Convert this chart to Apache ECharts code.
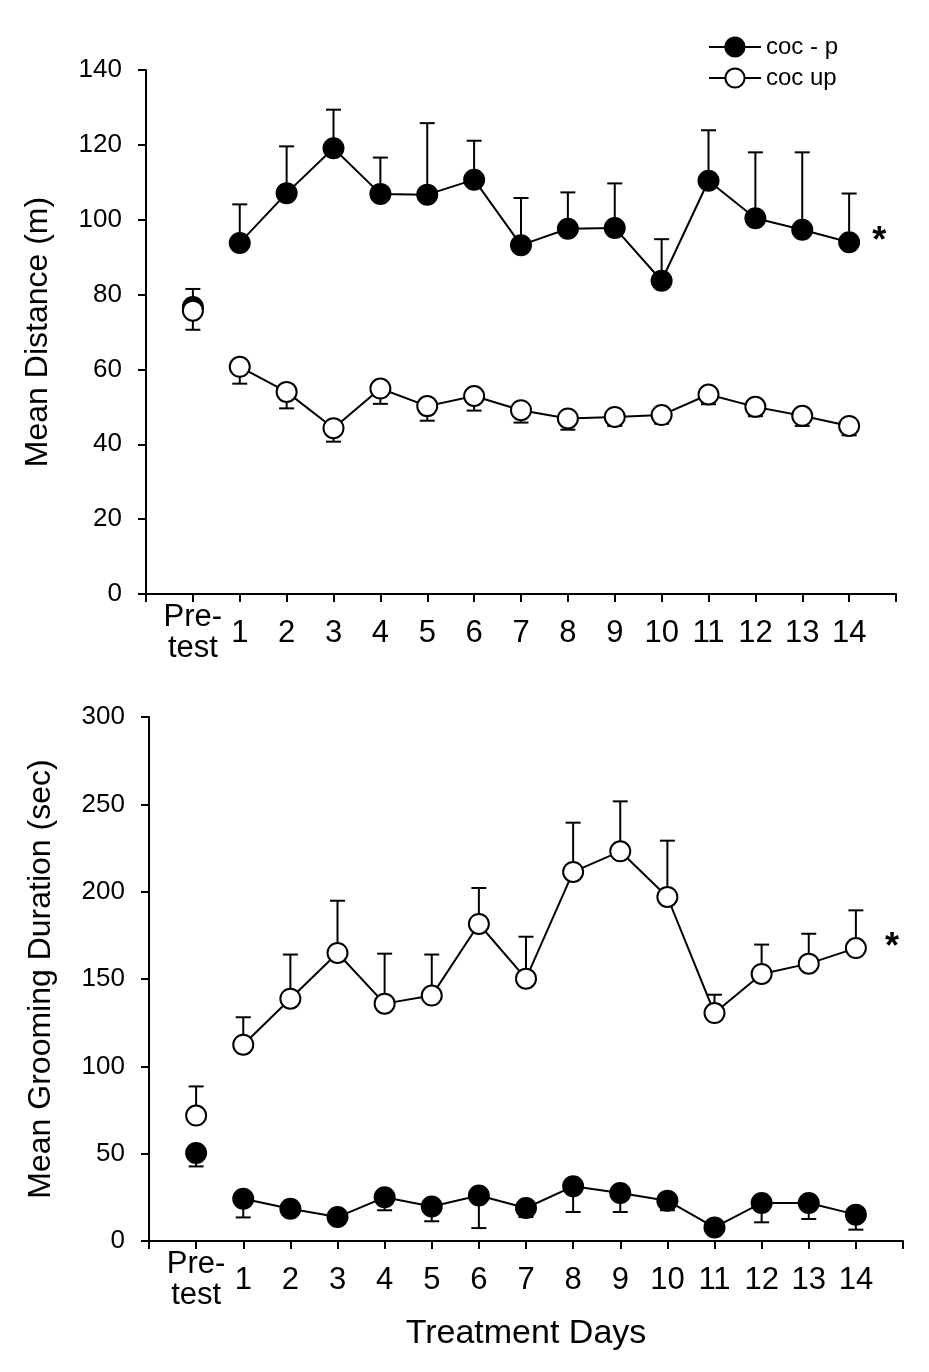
<!DOCTYPE html>
<html>
<head>
<meta charset="utf-8">
<script src="https://cdn.jsdelivr.net/npm/echarts@6/dist/echarts.min.js"></script>
<style>
  html, body { margin: 0; padding: 0; background: #fff; }
  #chart { width: 929px; height: 1372px; }
</style>
</head>
<body>
<div id="chart"></div>
<script>
// x categories (index 0 = pre-test)
const days = ['Pre-\ntest', '1', '2', '3', '4', '5', '6', '7', '8', '9', '10', '11', '12', '13', '14'];

// top panel: mean distance (m), values and end of error bar
const distCocP = [76.7, 93.8, 107.1, 119.1, 106.9, 106.7, 110.7, 93.2, 97.6, 97.8, 83.7, 110.4, 100.4, 97.3, 94.0];
const distCocPErr = [81.5, 104.1, 119.6, 129.4, 116.6, 125.8, 121.1, 105.8, 107.3, 109.7, 94.8, 123.9, 118.0, 118.0, 107.0];
const distCocUp = [75.7, 60.7, 54.0, 44.3, 54.9, 50.2, 52.9, 49.1, 46.9, 47.3, 47.8, 53.3, 50.0, 47.6, 44.9];
const distCocUpErr = [70.6, 56.2, 49.6, 40.7, 50.8, 46.3, 49.0, 45.8, 43.9, 44.9, 45.5, 50.7, 47.5, 44.9, 42.4];

// bottom panel: mean grooming duration (sec)
const groomCocP = [50.4, 24.2, 18.5, 13.7, 25.0, 19.8, 26.0, 18.9, 31.3, 27.5, 23.1, 7.8, 21.8, 21.8, 15.1];
const groomCocPErr = [42.7, 13.5, 16.0, 12.5, 17.6, 11.3, 7.4, 13.7, 16.6, 16.6, 17.6, 6.5, 10.7, 12.6, 6.5];
const groomCocUp = [71.8, 112.4, 138.7, 164.9, 135.9, 140.5, 181.5, 150.2, 211.3, 223.1, 197.0, 130.5, 152.9, 158.8, 167.7];
const groomCocUpErr = [88.5, 128.1, 164.0, 194.8, 164.5, 164.0, 202.1, 174.2, 239.5, 251.7, 229.2, 141.0, 169.7, 175.9, 189.3];

const FONT = "'Liberation Sans', Arial, sans-serif";
const BLACK = '#000';

const chart = echarts.init(document.getElementById('chart'), null, { renderer: 'canvas' });

function xAxisOpt(gridIndex, withName) {
  return {
    type: 'value',
    gridIndex: gridIndex,
    min: -1,
    max: 15,
    interval: 1,
    name: withName ? 'Treatment Days' : '',
    nameLocation: 'middle',
    nameGap: 76,
    nameTextStyle: { color: BLACK, fontFamily: FONT, fontSize: 34 },
    axisLine: { onZero: false, lineStyle: { color: BLACK, width: 2 } },
    axisTick: { length: 8, lineStyle: { color: BLACK, width: 2 } },
    axisLabel: {
      color: BLACK, fontFamily: FONT, fontSize: 31, lineHeight: 31,
      verticalAlign: 'middle', margin: 39,
      formatter: (v) => (days[v] !== undefined ? days[v] : '')
    },
    splitLine: { show: false }
  };
}

function yAxisOpt(gridIndex, name, max, interval, gap) {
  return {
    type: 'value',
    gridIndex: gridIndex,
    min: 0,
    max: max,
    interval: interval,
    name: name,
    nameLocation: 'middle',
    nameGap: gap,
    nameTextStyle: { color: BLACK, fontFamily: FONT, fontSize: 32 },
    axisLine: { show: true, onZero: false, lineStyle: { color: BLACK, width: 2 } },
    axisTick: { show: true, length: 8, lineStyle: { color: BLACK, width: 2 } },
    axisLabel: { color: BLACK, fontFamily: FONT, fontSize: 26, margin: 24 },
    splitLine: { show: false }
  };
}

// error bars: vertical line from mean to err end, with cap
function errSeries(vals, errs, gi) {
  const data = vals.map((v, i) => [i, v, errs[i]]);
  return {
    type: 'custom',
    xAxisIndex: gi,
    yAxisIndex: gi,
    z: 1,
    silent: true,
    data: data,
    encode: { x: 0, y: [1, 2] },
    renderItem: function (params, api) {
      const p0 = api.coord([api.value(0), api.value(1)]);
      const p1 = api.coord([api.value(0), api.value(2)]);
      const cap = 7.5;
      const style = { stroke: BLACK, lineWidth: 2 };
      return {
        type: 'group',
        children: [
          { type: 'line', shape: { x1: p0[0], y1: p0[1], x2: p1[0], y2: p1[1] }, style: style },
          { type: 'line', shape: { x1: p1[0] - cap, y1: p1[1], x2: p1[0] + cap, y2: p1[1] }, style: style }
        ]
      };
    }
  };
}

function lineSeries(name, vals, gi, filled, z, starDist) {
  const data = vals.slice(1).map((v, i) => [i + 1, v]);
  const last = data.length - 1;
  data[last] = {
    value: data[last],
    label: {
      show: starDist > 0, position: 'right', distance: starDist, formatter: '*',
      color: BLACK, fontFamily: FONT, fontSize: 36, fontWeight: 'bold'
    }
  };
  return {
    name: name,
    type: 'line',
    xAxisIndex: gi,
    yAxisIndex: gi,
    z: z,
    data: data,
    symbol: 'circle',
    symbolSize: 20,
    showAllSymbol: true,
    lineStyle: { color: BLACK, width: 2 },
    itemStyle: { color: filled ? BLACK : '#fff', borderColor: BLACK, borderWidth: 2 },
    label: { show: false },
    animation: false
  };
}

function preSeries(vals, gi, filled, z) {
  return {
    name: filled ? 'pre-p' : 'pre-up',
    type: 'scatter',
    xAxisIndex: gi,
    yAxisIndex: gi,
    z: z,
    data: [[0, vals[0]]],
    symbol: 'circle',
    symbolSize: 20,
    itemStyle: { color: filled ? BLACK : '#fff', borderColor: BLACK, borderWidth: 2, opacity: 1 },
    animation: false
  };
}

const seriesTop = [
  errSeries(distCocP, distCocPErr, 0),
  errSeries(distCocUp, distCocUpErr, 0),
  lineSeries('coc - p', distCocP, 0, true, 2, 12),
  preSeries(distCocP, 0, true, 2),
  lineSeries('coc up', distCocUp, 0, false, 3, 0),
  preSeries(distCocUp, 0, false, 3)
];

const seriesBottom = [
  errSeries(groomCocP, groomCocPErr, 1),
  errSeries(groomCocUp, groomCocUpErr, 1),
  lineSeries('coc - p', groomCocP, 1, true, 2, 0),
  preSeries(groomCocP, 1, true, 2),
  lineSeries('coc up', groomCocUp, 1, false, 3, 18),
  preSeries(groomCocUp, 1, false, 3)
];

chart.setOption({
  backgroundColor: '#fff',
  animation: false,
  legend: {
    data: ['coc - p', 'coc up'],
    orient: 'vertical',
    left: 703,
    top: 30,
    itemWidth: 52,
    itemHeight: 24,
    itemGap: 7,
    selectedMode: false,
    textStyle: { color: BLACK, fontFamily: FONT, fontSize: 24 }
  },
  grid: [
    { left: 146, right: 33, top: 70, height: 524 },
    { left: 149, right: 26, top: 717, height: 524 }
  ],
  xAxis: [xAxisOpt(0, false), xAxisOpt(1, true)],
  yAxis: [
    yAxisOpt(0, 'Mean Distance (m)', 140, 20, 92),
    yAxisOpt(1, 'Mean Grooming Duration (sec)', 300, 50, 92)
  ],
  series: seriesTop.concat(seriesBottom)
});
</script>
</body>
</html>
